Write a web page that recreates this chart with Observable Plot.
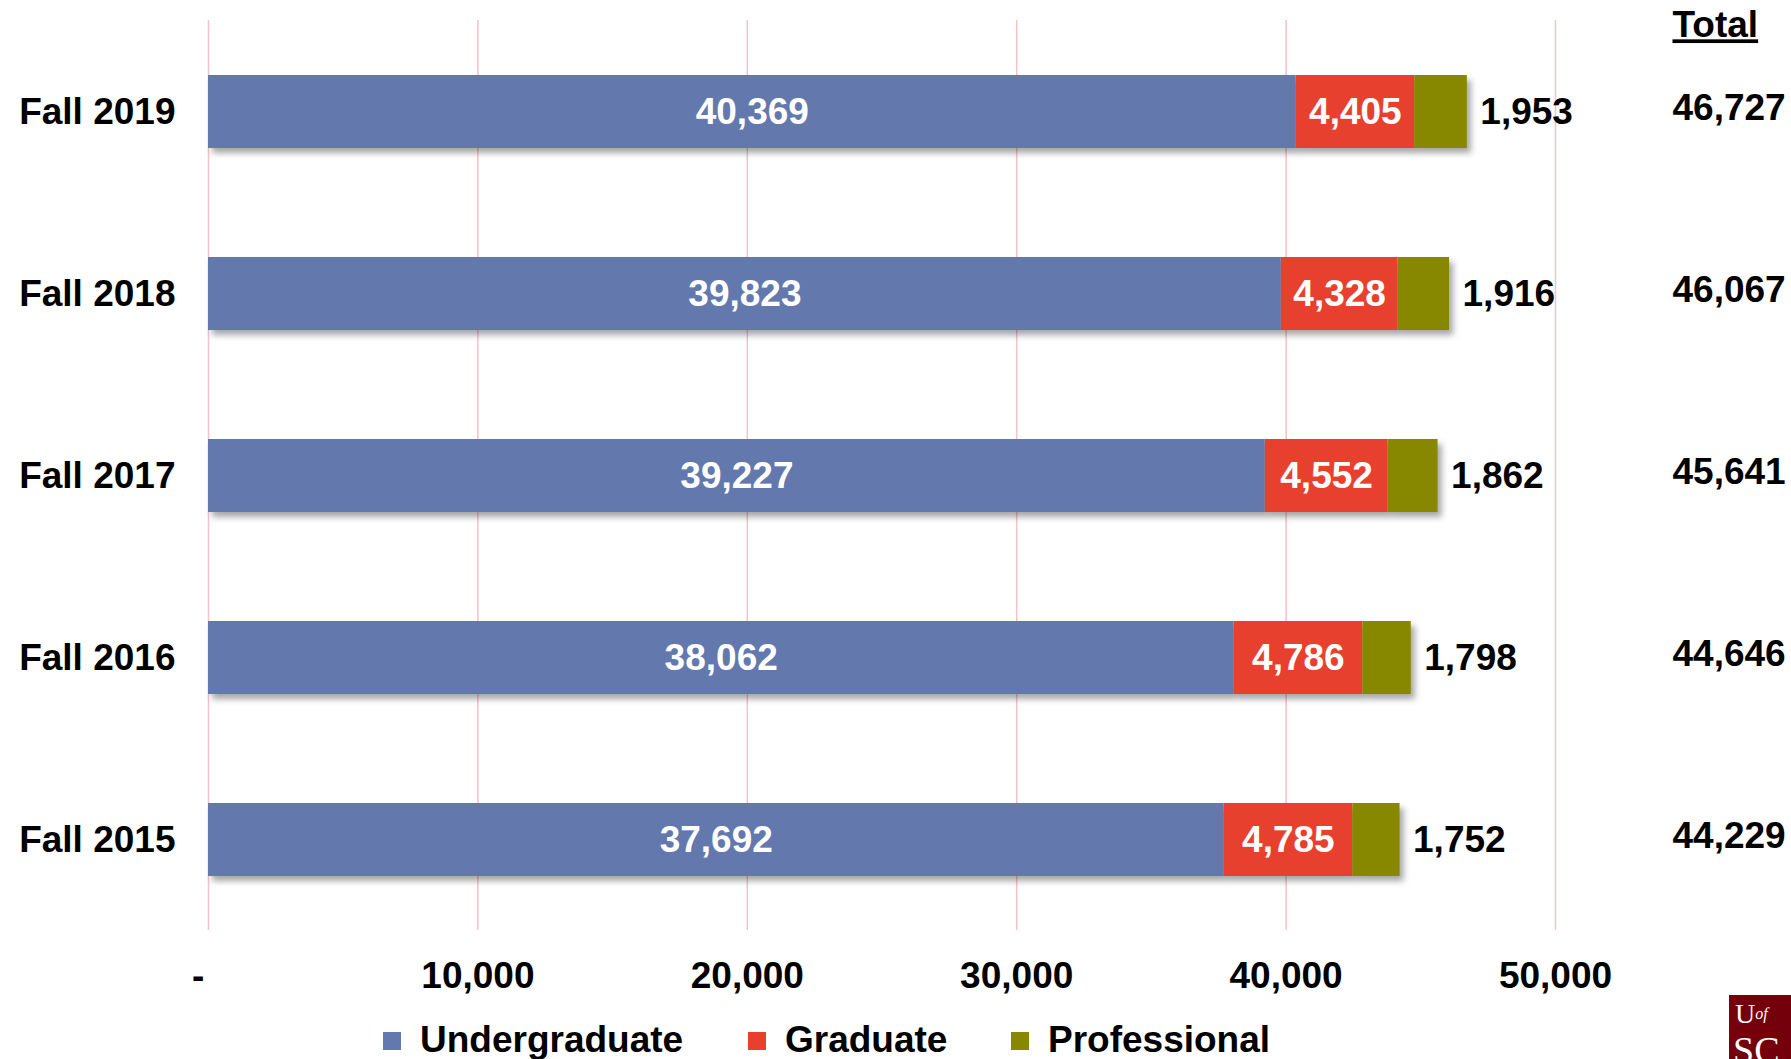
<!DOCTYPE html>
<html>
<head>
<meta charset="utf-8">
<script src="https://cdn.jsdelivr.net/npm/d3@7"></script>
<script src="https://cdn.jsdelivr.net/npm/@observablehq/plot@0.6"></script>
<style>
  html, body { margin: 0; padding: 0; background: #fff; overflow: hidden; }
  body { width: 1791px; height: 1059px; position: relative; font-family: "Liberation Sans", Arial, sans-serif; }
  #chart { position: absolute; left: 0; top: 0; }
  .bars { filter: drop-shadow(4px 5px 3px rgba(0,0,0,0.35)); }
  .total-head text { text-decoration: underline; text-decoration-thickness: 3px; }
  .legend-item { position: absolute; top: 1020px; height: 40px; font-size: 37px; font-weight: bold; line-height: 40px; color: #000; white-space: nowrap; }
  .legend-item .sw { position: absolute; top: 12px; width: 18px; height: 18px; }
  .legend-item .lbl { position: absolute; left: 37px; top: 0; }
  #logo { position: absolute; left: 1729px; top: 995px; width: 80px; height: 80px; background: #73000A; color: #fff; font-family: "Liberation Serif", "DejaVu Serif", serif; overflow: hidden; }
</style>
</head>
<body>
<div id="chart"></div>
<div class="legend-item" style="left:383px"><span class="sw" style="background:#6378AD"></span><span class="lbl">Undergraduate</span></div>
<div class="legend-item" style="left:748px"><span class="sw" style="background:#E8402F"></span><span class="lbl">Graduate</span></div>
<div class="legend-item" style="left:1011px"><span class="sw" style="background:#888800"></span><span class="lbl">Professional</span></div>
<div id="logo"><span style="position:absolute;left:6px;top:5px;font-size:28px;line-height:28px;">U<i style="font-size:16px;vertical-align:top;">of</i></span><span style="position:absolute;left:4px;top:36px;font-size:38px;line-height:38px;">SC</span></div>
<script>
// ---- Data ----
const years = ["Fall 2019", "Fall 2018", "Fall 2017", "Fall 2016", "Fall 2015"];
const undergraduate = [40369, 39823, 39227, 38062, 37692];
const graduate = [4405, 4328, 4552, 4786, 4785];
const professional = [1953, 1916, 1862, 1798, 1752];
const totals = [46727, 46067, 45641, 44646, 44229];
const types = ["Undergraduate", "Graduate", "Professional"];
const colors = ["#6378AD", "#E8402F", "#888800"];
const xTicks = [0, 10000, 20000, 30000, 40000, 50000];

// ---- Tables built from the arrays ----
const seriesValues = [undergraduate, graduate, professional];
const data = [];
years.forEach((year, i) => {
  types.forEach((type, k) => data.push({year, type, value: seriesValues[k][i]}));
});
const rows = years.map((year, i) => ({year, professional: professional[i], total: totals[i], end: undergraduate[i] + graduate[i] + professional[i]}));

const fmt = d3.format(",");
const FS = 37;

const chart = Plot.plot({
  width: 1791,
  height: 1010,
  marginTop: 20,
  marginBottom: 80,
  marginLeft: 208,
  marginRight: 236,
  style: {fontFamily: "'Liberation Sans', Arial, sans-serif", fontWeight: "bold", fontSize: FS + "px", color: "#000", background: "#fff"},
  x: {domain: [0, 50000], axis: null},
  y: {domain: years, paddingInner: 0.6, paddingOuter: 0.3, axis: null},
  color: {domain: types, range: colors},
  marks: [
    Plot.ruleX(xTicks, {stroke: "#F6C1C8", strokeWidth: 1.5}),
    Plot.barX(data, {x: "value", y: "year", fill: "type", className: "bars"}),
    Plot.text(data, Plot.stackX({
      x: "value", y: "year", z: "type",
      filter: d => d.type !== "Professional",
      text: d => fmt(d.value),
      fill: "#fff", fontSize: FS, fontWeight: "bold"
    })),
    Plot.text(rows, {x: "end", y: "year", text: d => fmt(d.professional), textAnchor: "start", dx: 13, fill: "#000", fontSize: FS, fontWeight: "bold"}),
    Plot.text(rows, {y: "year", text: d => fmt(d.total), frameAnchor: "right", textAnchor: "start", dx: 117, dy: -4, fill: "#000", fontSize: FS, fontWeight: "bold"}),
    Plot.text(["Total"], {frameAnchor: "top-right", lineAnchor: "middle", textAnchor: "start", dx: 117, dy: 5, fill: "#000", fontSize: FS, fontWeight: "bold", className: "total-head"}),
    Plot.axisY({tickSize: 0, tickPadding: 33, fontSize: FS, fontWeight: "bold", fill: "#000", label: null}),
    Plot.axisX(xTicks, {tickSize: 0, tickPadding: 31, fontSize: FS, fontWeight: "bold", fill: "#000", label: null,
      tickFormat: d => d === 0 ? "-\u00a0\u00a0" : fmt(d)})
  ]
});
document.getElementById("chart").appendChild(chart);
</script>
</body>
</html>
